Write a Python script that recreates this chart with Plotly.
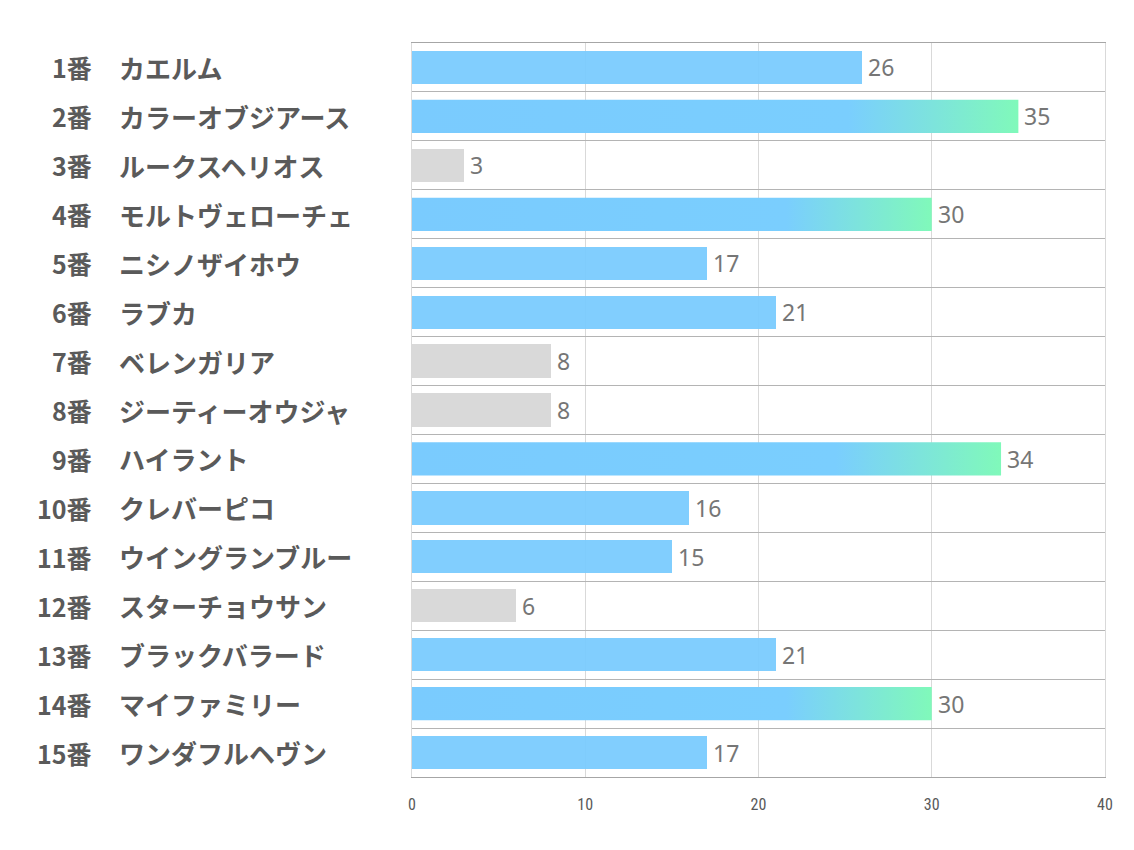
import plotly.graph_objects as go

numbers = ["1番", "2番", "3番", "4番", "5番", "6番", "7番", "8番", "9番", "10番",
           "11番", "12番", "13番", "14番", "15番"]
names = ["カエルム", "カラーオブジアース", "ルークスヘリオス", "モルトヴェローチェ", "ニシノザイホウ",
         "ラブカ", "ベレンガリア", "ジーティーオウジャ", "ハイラント", "クレバーピコ",
         "ウイングランブルー", "スターチョウサン", "ブラックバラード", "マイファミリー", "ワンダフルヘヴン"]
values = [26, 35, 3, 30, 17, 21, 8, 8, 34, 16, 15, 6, 21, 30, 17]
x_ticks = [0, 10, 20, 30, 40]

BLUE = "rgba(122,203,254,0.95)"
GRAY = "#D9D9D9"
LOW, HIGH = 10, 30
HALF = 0.34

ypos = list(range(len(values)))

colors = []
for v in values:
    if v >= HIGH:
        colors.append("rgba(0,0,0,0)")
    elif v < LOW:
        colors.append(GRAY)
    else:
        colors.append(BLUE)

fig = go.Figure()
fig.add_trace(go.Bar(
    x=values, y=ypos, orientation="h",
    marker=dict(color=colors, line=dict(width=0)),
    width=2 * HALF, hoverinfo="skip", showlegend=False,
))

for i, v in enumerate(values):
    if v >= HIGH:
        fig.add_trace(go.Scatter(
            x=[0, v, v, 0, 0], y=[i - HALF, i - HALF, i + HALF, i + HALF, i - HALF],
            mode="lines", line=dict(width=0), fill="toself",
            fillgradient=dict(type="horizontal",
                              colorscale=[[0, "rgb(122,203,254)"], [0.72, "rgb(122,206,254)"],
                                          [1, "rgb(128,249,186)"]]),
            hoverinfo="skip", showlegend=False,
        ))

NUM_FONT = dict(family="Noto Sans CJK JP", size=25, color="#5A5A5A", weight="bold")
NAME_FONT = dict(family="Noto Sans CJK JP", size=26, color="#5A5A5A", weight="bold")
annotations = []
for i, v in enumerate(values):
    annotations.append(dict(
        x=v, y=i, xref="x", yref="y", text=str(v), showarrow=False,
        xanchor="left", yanchor="middle", xshift=4,
        font=dict(family="Noto Sans, Open Sans, sans-serif", size=23, color="#767676"),
    ))
    annotations.append(dict(
        x=(94 - 412) / 693, y=i, xref="paper", yref="y", text=numbers[i], showarrow=False,
        xanchor="right", yanchor="middle", font=NUM_FONT,
    ))
    annotations.append(dict(
        x=(117 - 412) / 693, y=i, xref="paper", yref="y", text=names[i], showarrow=False,
        xanchor="left", yanchor="middle", font=NAME_FONT,
    ))

fig.update_layout(
    width=1134, height=850,
    margin=dict(l=412, r=29, t=43, b=73),
    plot_bgcolor="white", paper_bgcolor="white",
    annotations=annotations,
    xaxis=dict(range=[0, 40], tickvals=x_ticks, showgrid=True, gridcolor="#D9D9D9", gridwidth=1,
               zeroline=False, showline=True, linecolor="#A6A6A6", linewidth=1, mirror=True,
               ticks="", ticklabelstandoff=13,
               tickfont=dict(family="Liberation Sans Narrow, Roboto Condensed, sans-serif",
                             size=16, color="#595959")),
    yaxis=dict(range=[len(values) - 0.5, -0.5], tickvals=[k - 0.5 for k in range(len(values) + 1)],
               showticklabels=False, showgrid=True, gridcolor="#B4B4B4", gridwidth=1,
               zeroline=False, showline=True, linecolor="#D9D9D9", linewidth=1, mirror=True,
               ticks=""),
    bargap=0,
)

fig.write_html("out.html", config={"displayModeBar": False},
               post_script="document.body.style.margin='0';")
